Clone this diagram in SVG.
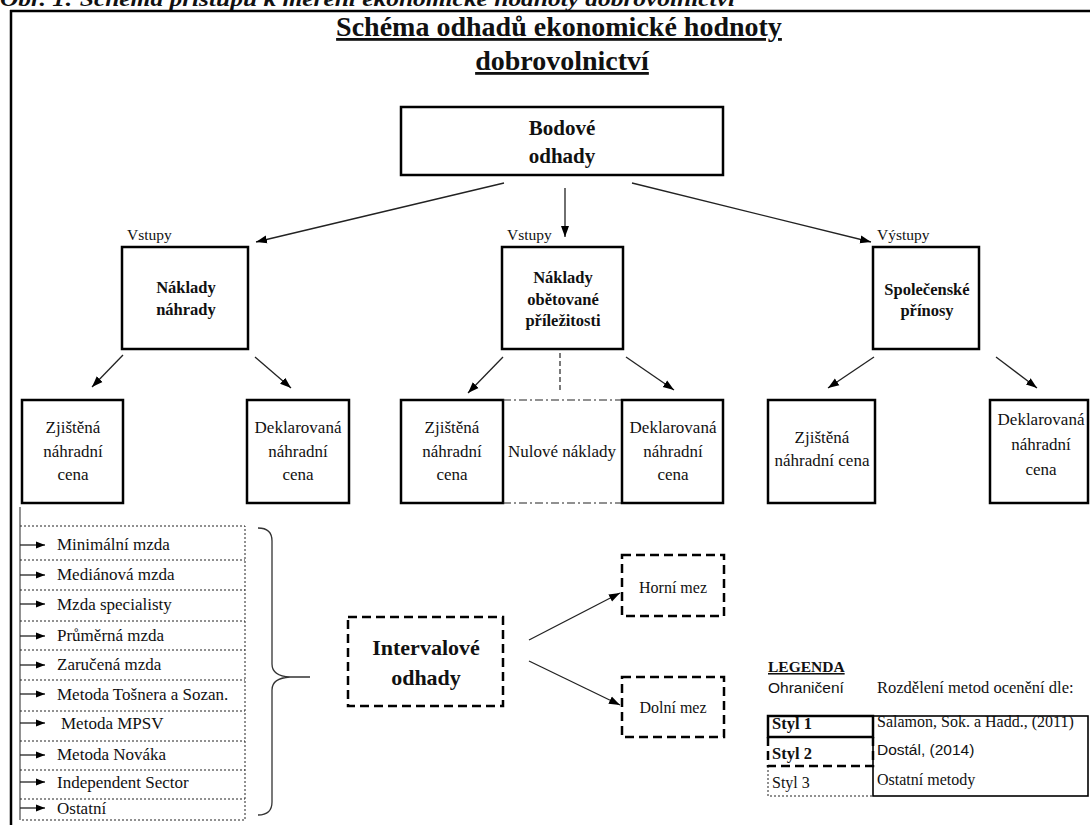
<svg xmlns="http://www.w3.org/2000/svg" width="1090" height="825" viewBox="0 0 1090 825">
<style>
.node{fill:#fff;stroke:#000;stroke-width:2.5}
.dash{fill:#fff;stroke:#000;stroke-width:2.5;stroke-dasharray:9 5}
.conn{stroke:#222;stroke-width:1.3;fill:none;marker-end:url(#ah)}
.t{font-family:"Liberation Serif",serif;font-size:17px;fill:#111;text-anchor:middle}
.l{text-anchor:start}
.b{font-weight:bold}
.s{font-family:"Liberation Sans",sans-serif;font-size:15.5px;fill:#111}
.dot{fill:none;stroke:#222;stroke-width:1;stroke-dasharray:2 2}
</style>
<defs>
<marker id="ah" markerWidth="11" markerHeight="9" refX="11" refY="4.5" orient="auto" markerUnits="userSpaceOnUse"><path d="M0,0.5 L11,4.5 L0,8.5 z" fill="#000"/></marker>
<marker id="ahs" markerWidth="9" markerHeight="8" refX="9" refY="4" orient="auto" markerUnits="userSpaceOnUse"><path d="M0,0.5 L9,4 L0,7.5 z" fill="#000"/></marker>
</defs>
<rect width="1090" height="825" fill="#fff"/>
<text x="0" y="6" class="t l b" style="font-style:italic;font-size:22px" textLength="735" lengthAdjust="spacingAndGlyphs">Obr. 1: Schéma přístupů k měření ekonomické hodnoty dobrovolnictví</text>
<g id="frame">
<line x1="10" y1="11" x2="1090" y2="11" stroke="#000" stroke-width="2.5"/>
<line x1="11" y1="10" x2="11" y2="825" stroke="#000" stroke-width="2.5"/>
</g>
<g id="title">
<text x="559" y="36" class="t b" style="font-size:28px;text-decoration:underline">Schéma odhadů ekonomické hodnoty </text>
<text x="562" y="70" class="t b" style="font-size:28px;text-decoration:underline">dobrovolnictví</text>
</g>
<g id="bodove">
<rect x="401" y="107" width="322" height="68" class="node"/>
<text x="562" y="135" class="t b" style="font-size:21px">Bodové</text>
<text x="562" y="163" class="t b" style="font-size:21px">odhady</text>
</g>
<g id="labels">
<text x="127" y="240" class="t l" style="font-size:15.5px">Vstupy</text>
<text x="507" y="240" class="t l" style="font-size:15.5px">Vstupy</text>
<text x="877" y="240" class="t l" style="font-size:15.5px">Výstupy</text>
</g>
<g id="naklady-nahrady">
<rect x="122" y="247" width="126" height="102" class="node"/>
<text x="186" y="293" class="t b" style="font-size:16.5px">Náklady</text>
<text x="186" y="315" class="t b" style="font-size:16.5px">náhrady</text>
</g>
<g id="naklady-obetovane">
<rect x="502" y="247" width="121" height="102" class="node"/>
<text x="563" y="283" class="t b" style="font-size:16.5px">Náklady</text>
<text x="563" y="305" class="t b" style="font-size:16.5px">obětované</text>
<text x="563" y="326" class="t b" style="font-size:16.5px">příležitosti</text>
</g>
<g id="spolecenske">
<rect x="873" y="247" width="106" height="102" class="node"/>
<text x="927" y="295" class="t b" style="font-size:16.5px">Společenské</text>
<text x="927" y="316" class="t b" style="font-size:16.5px">přínosy</text>
</g>
<g id="zjistena-1">
<rect x="22" y="400" width="101" height="103" class="node"/>
<text x="73" y="433" class="t">Zjištěná</text>
<text x="73" y="457" class="t">náhradní</text>
<text x="73" y="480" class="t">cena</text>
</g>
<g id="deklarovana-1">
<rect x="247" y="400" width="102" height="103" class="node"/>
<text x="298" y="433" class="t">Deklarovaná</text>
<text x="298" y="457" class="t">náhradní</text>
<text x="298" y="480" class="t">cena</text>
</g>
<g id="zjistena-2">
<rect x="401" y="400" width="102" height="103" class="node"/>
<text x="452" y="433" class="t">Zjištěná</text>
<text x="452" y="457" class="t">náhradní</text>
<text x="452" y="480" class="t">cena</text>
</g>
<g id="nulove">
<line x1="503" y1="400" x2="622" y2="400" stroke="#222" stroke-width="1.2" stroke-dasharray="8 3 2 3"/>
<line x1="503" y1="503" x2="622" y2="503" stroke="#222" stroke-width="1.2" stroke-dasharray="8 3 2 3"/>
<text x="562" y="457" class="t">Nulové náklady</text>
</g>
<g id="deklarovana-2">
<rect x="622" y="400" width="101" height="103" class="node"/>
<text x="673" y="433" class="t">Deklarovaná</text>
<text x="673" y="457" class="t">náhradní</text>
<text x="673" y="480" class="t">cena</text>
</g>
<g id="zjistena-3">
<rect x="768" y="400" width="107" height="103" class="node"/>
<text x="822" y="443" class="t">Zjištěná</text>
<text x="822" y="466" class="t">náhradní cena</text>
</g>
<g id="deklarovana-3">
<rect x="990" y="400" width="98" height="103" class="node"/>
<text x="1041" y="425" class="t">Deklarovaná</text>
<text x="1041" y="450" class="t">náhradní</text>
<text x="1041" y="475" class="t">cena</text>
</g>
<g id="intervalove">
<rect x="348" y="617" width="155" height="89" class="dash"/>
<text x="426" y="655" class="t b" style="font-size:22px">Intervalové</text>
<text x="426" y="685" class="t b" style="font-size:22px">odhady</text>
</g>
<g id="horni">
<rect x="622" y="555" width="102" height="61" class="dash"/>
<text x="673" y="593" class="t" style="font-size:16px">Horní mez</text>
</g>
<g id="dolni">
<rect x="622" y="677" width="102" height="60" class="dash"/>
<text x="673" y="713" class="t" style="font-size:16px">Dolní mez</text>
</g>
<g id="list">
<line x1="20" y1="507" x2="20" y2="820" stroke="#555" stroke-width="1.3"/>
<path class="dot" d="M20,526 H245 V820 H20 M20,560 H245 M20,590 H245 M20,621 H245 M20,650 H245 M20,680 H245 M20,711 H245 M20,741 H245 M20,770 H245 M20,799 H245"/>
<text x="57" y="550" class="t l">Minimální mzda</text>
<text x="57" y="580" class="t l">Mediánová mzda</text>
<text x="57" y="610" class="t l">Mzda specialisty</text>
<text x="57" y="641" class="t l">Průměrná mzda</text>
<text x="57" y="670" class="t l">Zaručená mzda</text>
<text x="57" y="700" class="t l">Metoda Tošnera a Sozan.</text>
<text x="61" y="729" class="t l">Metoda MPSV</text>
<text x="57" y="760" class="t l">Metoda Nováka</text>
<text x="57" y="788" class="t l">Independent Sector</text>
<text x="57" y="814" class="t l">Ostatní</text>
</g>
<g id="brace">
<path d="M258,528 Q272,528 272,541 L272,664 Q272,676 290,677 L310,677 M290,677 Q272,678 272,690 L272,802 Q272,815 258,815" fill="none" stroke="#333" stroke-width="1.3"/>
</g>
<g id="legend">
<text x="768" y="672" class="t l b" style="font-size:15.5px;text-decoration:underline">LEGENDA</text>
<text x="768" y="693" class="s">Ohraničení</text>
<text x="877" y="693" class="t l" style="font-size:16.5px">Rozdělení metod ocenění dle:</text>
<rect x="873" y="716" width="215" height="80" fill="none" stroke="#000" stroke-width="1.6"/>
<rect x="768" y="716" width="105" height="21" fill="none" stroke="#000" stroke-width="2.5"/>
<path d="M768,737 V766 H873 V737" fill="none" stroke="#000" stroke-width="2.5" stroke-dasharray="9 5"/>
<path d="M768,766 V796 H873" fill="none" stroke="#222" stroke-width="1" stroke-dasharray="2 2"/>
<text x="772" y="729" class="t l b" style="font-size:16.5px">Styl 1</text>
<text x="772" y="759" class="t l b" style="font-size:16.5px">Styl 2</text>
<text x="772" y="788" class="t l" style="font-size:16px">Styl 3</text>
<text x="877" y="727" class="t l" style="font-size:16px">Salamon, Sok. a Hadd., (2011)</text>
<text x="877" y="755" class="s">Dostál, (2014)</text>
<text x="877" y="785" class="t l" style="font-size:16px">Ostatní metody</text>
</g>
<g id="connectors">
<line x1="504" y1="183" x2="256" y2="242" class="conn"/>
<line x1="565" y1="188" x2="565" y2="237" class="conn"/>
<line x1="632" y1="183" x2="871" y2="242" class="conn"/>
<line x1="123" y1="355" x2="92" y2="387" class="conn"/>
<line x1="255" y1="357" x2="291" y2="388" class="conn"/>
<line x1="503" y1="357" x2="468" y2="393" class="conn"/>
<line x1="560" y1="353" x2="560" y2="392" stroke="#222" stroke-width="1.2" stroke-dasharray="5 3"/>
<line x1="626" y1="357" x2="674" y2="390" class="conn"/>
<line x1="874" y1="357" x2="828" y2="388" class="conn"/>
<line x1="996" y1="357" x2="1037" y2="388" class="conn"/>
<line x1="529" y1="640" x2="620" y2="593" class="conn"/>
<line x1="529" y1="661" x2="620" y2="705" class="conn"/>
<g stroke="#222" stroke-width="1.3" marker-end="url(#ahs)">
<line x1="20" y1="545" x2="45" y2="545"/>
<line x1="20" y1="575" x2="45" y2="575"/>
<line x1="20" y1="604" x2="45" y2="604"/>
<line x1="20" y1="636" x2="45" y2="636"/>
<line x1="20" y1="665" x2="45" y2="665"/>
<line x1="20" y1="694" x2="45" y2="694"/>
<line x1="20" y1="723" x2="45" y2="723"/>
<line x1="20" y1="755" x2="45" y2="755"/>
<line x1="20" y1="782" x2="45" y2="782"/>
<line x1="20" y1="808" x2="45" y2="808"/>
</g>
</g>
</svg>
